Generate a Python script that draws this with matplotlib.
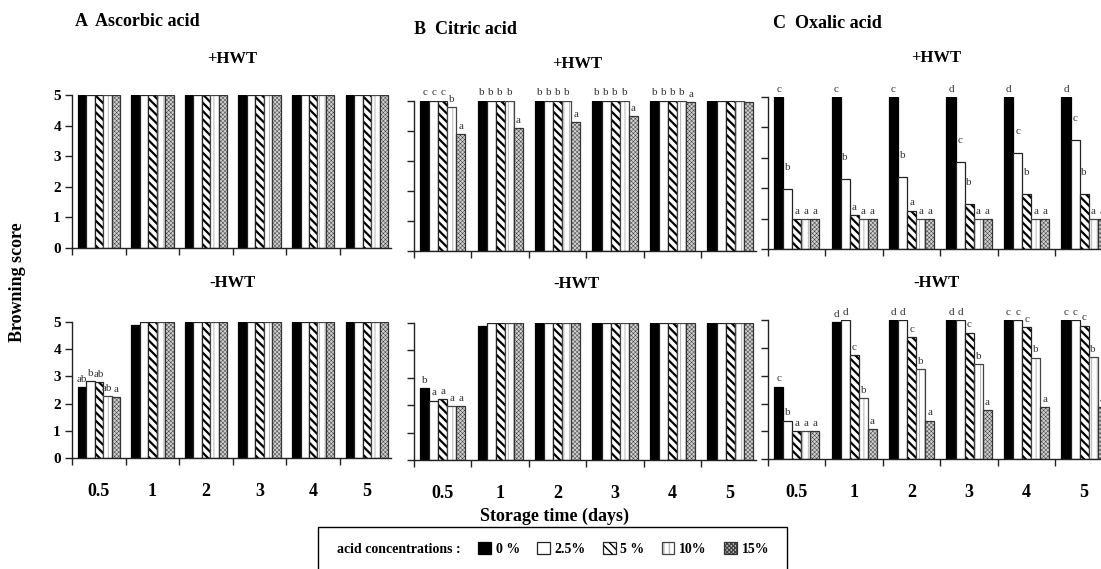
import numpy as np
import matplotlib
matplotlib.use('Agg')
import matplotlib.pyplot as plt
from matplotlib.patches import Patch, Rectangle

plt.rcParams['font.family'] = ['Liberation Serif', 'DejaVu Serif']

days = ['0.5', '1', '2', '3', '4', '5']
conc = ['0 %', '2.5%', '5 %', '10%', '15%']

# browning score, one row per storage day, one column per acid concentration
asc_hwt = [[5, 5, 5, 5, 5],
           [5, 5, 5, 5, 5],
           [5, 5, 5, 5, 5],
           [5, 5, 5, 5, 5],
           [5, 5, 5, 5, 5],
           [5, 5, 5, 5, 5]]
asc_nohwt = [[2.6, 2.84, 2.8, 2.29, 2.23],
             [4.89, 5, 5, 5, 5],
             [5, 5, 5, 5, 5],
             [5, 5, 5, 5, 5],
             [5, 5, 5, 5, 5],
             [5, 5, 5, 5, 5]]
cit_hwt = [[5, 5, 5, 4.77, 3.87],
           [5, 5, 5, 5, 4.07],
           [5, 5, 5, 5, 4.27],
           [5, 5, 5, 5, 4.48],
           [5, 5, 5, 5, 4.96],
           [5, 5, 5, 5, 4.94]]
cit_nohwt = [[2.61, 2.17, 2.22, 1.97, 1.97],
             [4.88, 5, 5, 5, 5],
             [5, 5, 5, 5, 5],
             [5, 5, 5, 5, 5],
             [5, 5, 5, 5, 5],
             [5, 5, 5, 5, 5]]
oxa_hwt = [[5, 1.98, 1.0, 1.0, 1.0],
           [5, 2.3, 1.12, 1.0, 1.0],
           [5, 2.36, 1.27, 1.0, 1.0],
           [5, 2.85, 1.5, 1.0, 1.0],
           [5, 3.16, 1.81, 1.0, 1.0],
           [5, 3.57, 1.82, 1.0, 1.0]]
oxa_nohwt = [[2.61, 1.39, 1.0, 1.0, 1.0],
             [4.93, 5, 3.74, 2.19, 1.1],
             [5, 5, 4.39, 3.25, 1.39],
             [5, 5, 4.55, 3.43, 1.77],
             [5, 5, 4.75, 3.65, 1.88],
             [5, 5, 4.8, 3.67, 1.88]]
# hidden error bars: the letters sit above them
oxa_hwt_err = [[0, 0.45, 0, 0, 0],
               [0, 0.45, 0, 0, 0],
               [0, 0.45, 0, 0, 0],
               [0, 0.45, 0.45, 0, 0],
               [0, 0.45, 0.45, 0, 0],
               [0, 0.45, 0.45, 0, 0]]

# significance letters per day
asc_hwt_let = ['', '', '', '', '', '']
asc_nohwt_let = ['ab b ab ab a', '', '', '', '', '']
cit_hwt_let = ['c c c b a', 'b b b b a', 'b b b b a', 'b b b b a', 'b b b b a', '']
cit_nohwt_let = ['b a a a a', '', '', '', '', '']
oxa_hwt_let = ['c b a a a', 'c b a a a', 'c b a a a', 'd c b a a', 'd c b a a', 'd c b a a']
oxa_nohwt_let = ['c b a a a', 'd d c b a', 'd d c b a', 'd d c b a', 'c c c b a', 'c c c b a']

W, H = 1101, 569


def fx(px):
    return px / W


def fy(py):
    return 1 - py / H


# face, hatch, hatch colour, hatch width, outline colour
styles = [('black', '', 'black', 0.5, 'black'),
          ('white', '', 'white', 0.5, '#222222'),
          ('white', '\\\\\\\\', 'black', 1.6, '#222222'),
          ('white', '|||', '#b8b8b8', 0.7, '#444444'),
          ('#d0d0d0', 'xxxxxxxx', '#404040', 0.35, '#333333')]


def draw_panel(box, values, letters, err=None, ylabels=False, xlabels=False):
    left, right, top, bottom = box
    ax = fig.add_axes([fx(left), fy(bottom), fx(right - left), (bottom - top) / H])
    values = np.array(values, dtype=float)
    if err is None:
        err = np.zeros_like(values)
    err = np.array(err, dtype=float)
    x = np.arange(len(days))
    w = 0.158
    handles = []
    for j, (face, hatch, hcol, hlw, edge) in enumerate(styles):
        xs = x + (j - 2) * w
        with plt.rc_context({'hatch.linewidth': hlw}):
            fill = ax.bar(xs, values[:, j], w, color=face, hatch=hatch,
                          edgecolor=hcol, linewidth=0)
        line = ax.bar(xs, values[:, j], w, facecolor='none', edgecolor=edge,
                      linewidth=0.9)
        handles.append((fill[0], line[0]))
    for i, row in enumerate(letters):
        if not row:
            continue
        for j, let in enumerate(row.split()):
            ax.annotate(let, (x[i] + (j - 2) * w, values[i, j] + err[i, j]),
                        xytext=(0, 5.5), textcoords='offset points',
                        ha='center', va='center', fontsize=8, color='#333333',
                        annotation_clip=False)
    ax.set_ylim(0, 5)
    ax.set_xlim(-0.5, 5.45)
    for s in ['top', 'right']:
        ax.spines[s].set_visible(False)
    for s in ['left', 'bottom']:
        ax.spines[s].set_linewidth(1.0)
        ax.spines[s].set_color('#222222')
    ax.set_yticks(range(6))
    ax.tick_params(axis='y', direction='out', length=5, width=1.0, color='#222222',
                   labelleft=ylabels, labelsize=11, pad=3)
    if ylabels:
        for t in ax.get_yticklabels():
            t.set_fontweight('bold')
    ax.set_xticks(x)
    ax.set_xticks(np.arange(len(days)) - 0.5, minor=True)
    ax.tick_params(axis='x', which='major', length=0, labelbottom=xlabels,
                   labelsize=13, pad=18)
    ax.tick_params(axis='x', which='minor', direction='out', length=5, width=1.0,
                   color='#222222')
    if xlabels:
        ax.set_xticklabels(days, fontweight='bold')
    return ax, handles


fig = plt.figure(figsize=(W / 100, H / 100), dpi=100)

draw_panel((72, 391, 95, 248), asc_hwt, asc_hwt_let, ylabels=True)
draw_panel((72, 391, 322, 458), asc_nohwt, asc_nohwt_let, ylabels=True, xlabels=True)
draw_panel((414, 756, 100.5, 250.5), cit_hwt, cit_hwt_let)
draw_panel((414, 756, 323, 460), cit_nohwt, cit_nohwt_let, xlabels=True)
draw_panel((768, 1110, 96.7, 249.3), oxa_hwt, oxa_hwt_let, err=oxa_hwt_err)
ax, handles = draw_panel((768, 1110, 320, 459.3), oxa_nohwt, oxa_nohwt_let, xlabels=True)

bold = dict(fontweight='bold', va='center')
fig.text(fx(75), fy(22), 'A  Ascorbic acid', ha='left', fontsize=13, **bold)
fig.text(fx(414), fy(30), 'B  Citric acid', ha='left', fontsize=13, **bold)
fig.text(fx(773), fy(24), 'C  Oxalic acid', ha='left', fontsize=13, **bold)
for xc, yc, s in [(232, 59, '+HWT'), (577, 64, '+HWT'), (936, 58, '+HWT'),
                  (232, 283, '-HWT'), (577, 284, '-HWT'), (936, 283, '-HWT')]:
    fig.text(fx(xc), fy(yc), s, ha='center', fontsize=12, **bold)
fig.text(fx(18), fy(282), 'Browning score', ha='center', rotation=90, fontsize=13, **bold)
fig.text(fx(555), fy(516), 'Storage time (days)', ha='center', fontsize=13, **bold)

# legend box runs past the bottom edge, as in the original
fig.add_artist(Rectangle((fx(318), fy(580)), fx(787 - 318), 53 / H, fill=False,
                         edgecolor='black', linewidth=1.0, transform=fig.transFigure))
blank = Patch(facecolor='none', edgecolor='none')
fig.legend([blank] + handles, ['acid concentrations :'] + conc,
           ncol=6, loc='center left', bbox_to_anchor=(fx(320), fy(549)),
           frameon=False, prop={'weight': 'bold', 'size': 10}, handlelength=0.9,
           handleheight=0.9, handletextpad=0.35, columnspacing=1.25,
           borderpad=0, borderaxespad=0)

fig.savefig('out.png', dpi=100)
